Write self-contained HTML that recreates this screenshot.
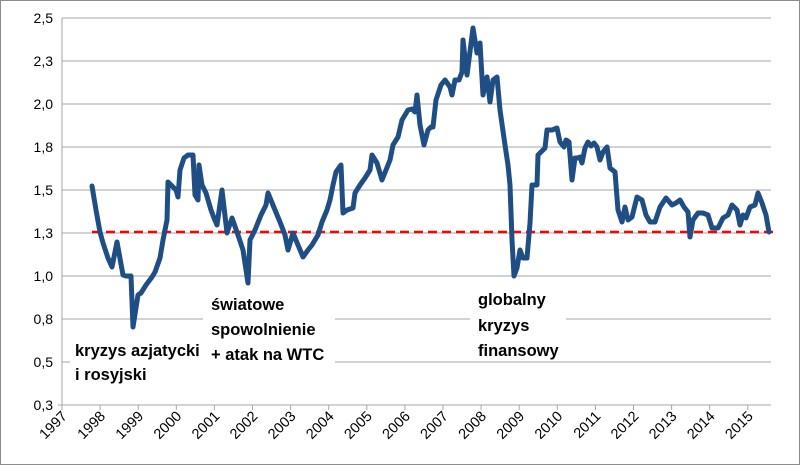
<!DOCTYPE html>
<html><head><meta charset="utf-8"><style>
html,body{margin:0;padding:0;background:#fff}
svg{display:block}
text{font-family:"Liberation Sans",sans-serif}
</style></head><body>
<svg width="800" height="465" viewBox="0 0 800 465">
<rect x="0.5" y="0.5" width="799" height="464" fill="#fff" stroke="#8c8c8c"/>
<g stroke="#a6a6a6" stroke-width="1">
<line x1="62" y1="18" x2="771" y2="18"/>
<line x1="62" y1="61" x2="771" y2="61"/>
<line x1="62" y1="104" x2="771" y2="104"/>
<line x1="62" y1="147" x2="771" y2="147"/>
<line x1="62" y1="190" x2="771" y2="190"/>
<line x1="62" y1="233" x2="771" y2="233"/>
<line x1="62" y1="276" x2="771" y2="276"/>
<line x1="62" y1="319" x2="771" y2="319"/>
<line x1="62" y1="362" x2="771" y2="362"/>
<line x1="62" y1="405" x2="771" y2="405"/>
<line x1="62" y1="18" x2="62" y2="405"/>
<line x1="58" y1="405" x2="62" y2="405"/>
<line x1="62" y1="405" x2="62" y2="410"/><line x1="100.1" y1="405" x2="100.1" y2="410"/><line x1="138.2" y1="405" x2="138.2" y2="410"/><line x1="176.3" y1="405" x2="176.3" y2="410"/><line x1="214.4" y1="405" x2="214.4" y2="410"/><line x1="252.5" y1="405" x2="252.5" y2="410"/><line x1="290.6" y1="405" x2="290.6" y2="410"/><line x1="328.7" y1="405" x2="328.7" y2="410"/><line x1="366.8" y1="405" x2="366.8" y2="410"/><line x1="404.9" y1="405" x2="404.9" y2="410"/><line x1="443" y1="405" x2="443" y2="410"/><line x1="481.1" y1="405" x2="481.1" y2="410"/><line x1="519.2" y1="405" x2="519.2" y2="410"/><line x1="557.3" y1="405" x2="557.3" y2="410"/><line x1="595.4" y1="405" x2="595.4" y2="410"/><line x1="633.5" y1="405" x2="633.5" y2="410"/><line x1="671.6" y1="405" x2="671.6" y2="410"/><line x1="709.7" y1="405" x2="709.7" y2="410"/><line x1="747.8" y1="405" x2="747.8" y2="410"/>
</g>
<g font-size="14" text-anchor="end" fill="#000">
<text x="53" y="23">2,5</text><text x="53" y="66">2,3</text><text x="53" y="109">2,0</text>
<text x="53" y="152">1,8</text><text x="53" y="195">1,5</text><text x="53" y="238">1,3</text>
<text x="53" y="281">1,0</text><text x="53" y="324">0,8</text><text x="53" y="367">0,5</text>
<text x="53" y="410">0,3</text>
</g>
<g font-size="14.5" fill="#000" text-anchor="end">
<text transform="translate(68,417) rotate(-45)">1997</text>
<text transform="translate(106.1,417) rotate(-45)">1998</text>
<text transform="translate(144.2,417) rotate(-45)">1999</text>
<text transform="translate(182.3,417) rotate(-45)">2000</text>
<text transform="translate(220.4,417) rotate(-45)">2001</text>
<text transform="translate(258.5,417) rotate(-45)">2002</text>
<text transform="translate(296.6,417) rotate(-45)">2003</text>
<text transform="translate(334.7,417) rotate(-45)">2004</text>
<text transform="translate(372.8,417) rotate(-45)">2005</text>
<text transform="translate(410.9,417) rotate(-45)">2006</text>
<text transform="translate(449,417) rotate(-45)">2007</text>
<text transform="translate(487.1,417) rotate(-45)">2008</text>
<text transform="translate(525.2,417) rotate(-45)">2009</text>
<text transform="translate(563.3,417) rotate(-45)">2010</text>
<text transform="translate(601.4,417) rotate(-45)">2011</text>
<text transform="translate(639.5,417) rotate(-45)">2012</text>
<text transform="translate(677.6,417) rotate(-45)">2013</text>
<text transform="translate(715.7,417) rotate(-45)">2014</text>
<text transform="translate(753.8,417) rotate(-45)">2015</text>
</g>
<rect x="70" y="333" width="160" height="50" fill="#fff"/>
<rect x="203" y="288" width="132" height="75" fill="#fff"/>
<rect x="470" y="284" width="96" height="75" fill="#fff"/>
<line x1="92" y1="232" x2="774" y2="232" stroke="#ff0000" stroke-width="2.5" stroke-dasharray="9,5"/>
<polyline fill="none" stroke="#1f4e85" stroke-width="5" stroke-linejoin="round" stroke-linecap="round" points="
92,186 96,210 100,232 103,243 108,258 112,267 117,242 123,275 126,276 131,276 133,327 138,295 141,293 146,285 152,277 155,272 160,258 163,240 167,220 168,182 171,185 176,190 178,197 180,170 184,158 188,155 193,155 195,195 198,200 199,165 202,185 206,193 211,210 214,218 217,225 222,190 227,233 232,218 238,235 243,250 248,283 250,240 255,230 261,215 266,205 268,193 275,210 280,222 285,235 288,250 293,233 298,245 303,257 308,250 312,245 318,235 322,222 327,210 330,200 333,185 336,172 341,165 343,213 347,210 353,208 355,193 360,185 365,178 370,170 372,155 377,163 382,180 386,170 390,160 393,145 398,137 402,120 408,110 412,109 415,112 417,95 420,125 424,145 428,130 431,127 433,127 436,100 441,85 445,80 450,87 452,95 455,80 459,80 462,72 463,40 467,75 473,28 477,53 480,43 483,95 487,77 490,102 493,80 497,77 500,110 505,145 508,165 510,185 512,240 514,276 517,268 520,250 523,258 527,258 530,223 532,185 537,185 538,155 545,148 547,130 552,130 557,128 560,142 564,147 566,140 569,142 572,180 575,158 578,158 580,157 582,163 585,148 588,142 591,146 594,143 597,147 600,160 603,152 607,147 610,168 615,172 618,210 622,222 625,207 628,220 632,217 637,197 642,200 646,215 650,222 655,222 660,207 666,198 672,205 676,203 680,200 684,207 688,212 690,237 693,220 698,213 703,213 708,215 712,228 718,228 723,218 728,215 732,205 737,210 740,225 743,215 746,218 750,207 755,205 758,193 762,203 766,215 769,232"/>
<g font-size="16.5" font-weight="bold" fill="#000">
<text x="75" y="356">kryzys azjatycki</text>
<text x="75" y="380">i rosyjski</text>
<text x="211" y="310">światowe</text>
<text x="211" y="335">spowolnienie</text>
<text x="211" y="360">+ atak na WTC</text>
<text x="478" y="305">globalny</text>
<text x="478" y="331">kryzys</text>
<text x="478" y="356">finansowy</text>
</g>
</svg>
</body></html>
